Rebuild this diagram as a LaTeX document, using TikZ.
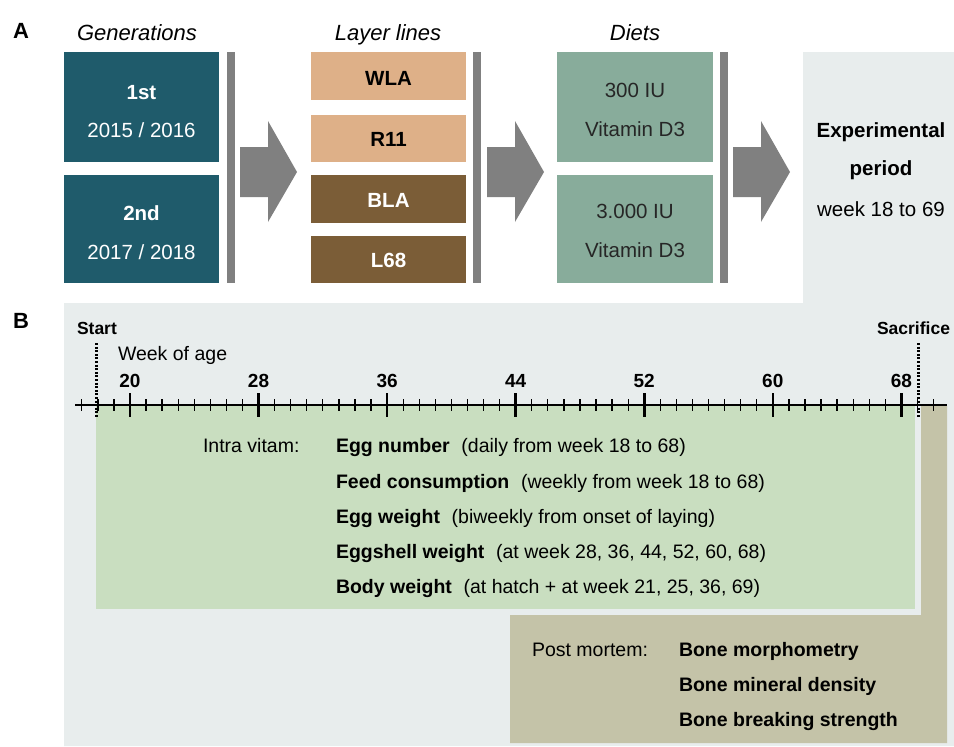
\documentclass[tikz,border=0pt]{standalone}
\usepackage{fontspec}
\setmainfont{Liberation Sans}
\usetikzlibrary{calc}

\definecolor{tealgen}{HTML}{1F5B6B}
\definecolor{tanlight}{HTML}{DEB088}
\definecolor{browndark}{HTML}{7B5D37}
\definecolor{sagediet}{HTML}{88AC9B}
\definecolor{bargray}{HTML}{808080}
\definecolor{periodbg}{HTML}{E8EDED}
\definecolor{vitamgreen}{HTML}{C9DEC0}
\definecolor{mortemtan}{HTML}{C4C3A8}
\newcommand{\setfs}[1]{\fontsize{#1}{#1}\selectfont}

\begin{document}
\begin{tikzpicture}[x=1pt,y=-1pt,
  every node/.style={inner sep=0pt,outer sep=0pt},
  tile/.style={anchor=north west,minimum width=155,minimum height=#1},
  hdr/.style={anchor=base,font=\setfs{22}\itshape},
  tiletext/.style={anchor=base,font=\setfs{20.5}},
  tilebold/.style={anchor=base,font=\setfs{20.5}\bfseries},
  bodytext/.style={anchor=base west,font=\setfs{19.5}},
  axisnum/.style={anchor=base,font=\setfs{19}\bfseries},
  divider/.style={fill=bargray,anchor=north west,minimum width=8,minimum height=231},
  blockarrow/.style={fill=bargray},
  marker/.style={line width=3pt,dash pattern=on 2pt off 1.6pt}]
\useasboundingbox (0,0) rectangle (954,747);

% backgrounds
\fill[periodbg] (803,52) -- (954,52) -- (954,746) -- (64,746) -- (64,303) -- (803,303) -- cycle;
\fill[vitamgreen] (96,405) rectangle (915,609);
\fill[mortemtan] (921,406) -- (947,406) -- (947,743) -- (510,743) -- (510,615) -- (921,615) -- cycle;

% panel A
\node[anchor=base west,font=\setfs{22}\bfseries] (lblA) at (13,38) {A};
\node[hdr] (hgen) at (137,40) {Generations};
\node[hdr] (hlines) at (388,40) {Layer lines};
\node[hdr] (hdiet) at (635,40) {Diets};

\node[tile=110,fill=tealgen] (gen1) at (64,52) {};
\node[tile=108,fill=tealgen] (gen2) at (64,175) {};
\node[tilebold,text=white] (gen1n) at (141.5,99) {1st};
\node[tiletext,text=white] (gen1y) at (141.5,137) {2015 / 2016};
\node[tilebold,text=white] (gen2n) at (141.5,220) {2nd};
\node[tiletext,text=white] (gen2y) at (141.5,259) {2017 / 2018};

\node[tile=48,fill=tanlight] (wla) at (311,52) {};
\node[tile=47,fill=tanlight] (r11) at (311,115) {};
\node[tile=48,fill=browndark] (bla) at (311,175) {};
\node[tile=47,fill=browndark] (l68) at (311,236) {};
\node[tilebold] (wlat) at (388.5,85) {WLA};
\node[tilebold] (r11t) at (388.5,146) {R11};
\node[tilebold,text=white] (blat) at (388.5,207) {BLA};
\node[tilebold,text=white] (l68t) at (388.5,267) {L68};

\node[tile=110,fill=sagediet,minimum width=156] (diet1) at (557,52) {};
\node[tile=108,fill=sagediet,minimum width=156] (diet2) at (557,175) {};
\node[tiletext,text=black!85] (diet1a) at (635,97) {300 IU};
\node[tiletext,text=black!85] (diet1b) at (635,136) {Vitamin D3};
\node[tiletext,text=black!85] (diet2a) at (635,218) {3.000 IU};
\node[tiletext,text=black!85] (diet2b) at (635,257) {Vitamin D3};

\node[divider] (bar1) at (227,52) {};
\node[divider] (bar2) at (473,52) {};
\node[divider] (bar3) at (720,52) {};
\foreach \ax in {240,487,733}
  \fill[blockarrow] (\ax,147) -- ++(28,0) -- ++(0,-26) -- ++(29,51) -- ++(-29,50) -- ++(0,-25) -- ++(-28,0) -- cycle;

\node[tilebold] (expa) at (881,137) {Experimental};
\node[tilebold] (expb) at (881,175) {period};
\node[tiletext] (expc) at (881,216) {week 18 to 69};

% panel B: time line
\node[anchor=base west,font=\setfs{22}\bfseries] (lblB) at (13,328) {B};
\node[anchor=base west,font=\setfs{17.5}\bfseries] (start) at (77,334) {Start};
\node[anchor=base east,font=\setfs{17.5}\bfseries] (sacr) at (950,334) {Sacrifice};
\node[bodytext] (weekage) at (118,360) {Week of age};

\coordinate (axL) at (75,405);
\coordinate (axR) at (947,405);
\draw[line width=2pt] (axL) -- (axR);
\foreach \w in {17,...,70}
  \draw[line width=1.3pt] ({130+(\w-20)*16.07},399) -- ++(0,12);
\foreach \w in {20,28,...,68}{
  \draw[line width=2.6pt] ({130+(\w-20)*16.07},393) -- ++(0,24);
  \node[axisnum] (wk\w) at ({130+(\w-20)*16.07},387) {\w};
}
\coordinate (startT) at (96,343);
\coordinate (startB) at (96,418);
\coordinate (sacrT) at (918,343);
\coordinate (sacrB) at (918,417);
\draw[marker] (startT) -- (startB);
\draw[marker] (sacrT) -- (sacrB);

% panel B: measurements
\node[bodytext] (intra) at (203,452) {Intra vitam:};
\node[bodytext] (m1) at (336,452) {\textbf{Egg number}\hspace{0.6em}(daily from week 18 to 68)};
\node[bodytext] (m2) at (336,488) {\textbf{Feed consumption}\hspace{0.6em}(weekly from week 18 to 68)};
\node[bodytext] (m3) at (336,523) {\textbf{Egg weight}\hspace{0.6em}(biweekly from onset of laying)};
\node[bodytext] (m4) at (336,558) {\textbf{Eggshell weight}\hspace{0.6em}(at week 28, 36, 44, 52, 60, 68)};
\node[bodytext] (m5) at (336,593) {\textbf{Body weight}\hspace{0.6em}(at hatch + at week 21, 25, 36, 69)};

\node[bodytext] (post) at (532,656) {Post mortem:};
\node[bodytext,font=\setfs{19.5}\bfseries] (b1) at (679,656) {Bone morphometry};
\node[bodytext,font=\setfs{19.5}\bfseries] (b2) at (679,691) {Bone mineral density};
\node[bodytext,font=\setfs{19.5}\bfseries] (b3) at (679,726) {Bone breaking strength};
\end{tikzpicture}
\end{document}
